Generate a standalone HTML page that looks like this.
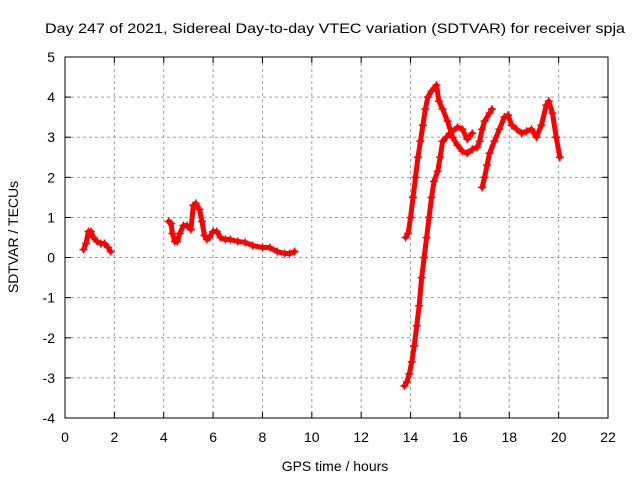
<!DOCTYPE html>
<html><head><meta charset="utf-8"><style>
body{margin:0;background:#fff}
svg{display:block;font-family:"Liberation Sans",sans-serif}
</style></head><body>
<svg id="chart" width="640" height="480">
<rect width="640" height="480" fill="#fff"/>
<text x="335" y="33" text-anchor="middle" font-size="14" textLength="580" lengthAdjust="spacingAndGlyphs">Day 247 of 2021, Sidereal Day-to-day VTEC variation (SDTVAR) for receiver spja</text>
<text x="335" y="471" text-anchor="middle" font-size="14">GPS time / hours</text>
<text x="18" y="237" text-anchor="middle" font-size="14" transform="rotate(-90 18 237)">SDTVAR / TECUs</text>
<g id="grid"></g><g id="axes"></g><g id="marks"></g>
</svg>
<script>
const xTicks=[0,2,4,6,8,10,12,14,16,18,20,22];
const yTicks=[-4,-3,-2,-1,0,1,2,3,4,5];
const segA=[[0.75,0.2],[0.85,0.35],[0.95,0.65],[1.05,0.65],[1.15,0.5],[1.3,0.4],[1.45,0.35],[1.6,0.35],[1.75,0.25],[1.85,0.15]];
const segB=[[4.2,0.9],[4.3,0.85],[4.35,0.6],[4.45,0.4],[4.55,0.4],[4.65,0.6],[4.8,0.8],[4.95,0.8],[5.1,0.7],[5.2,1.3],[5.3,1.35],[5.45,1.2],[5.55,0.9],[5.65,0.55],[5.75,0.45],[5.85,0.5],[6.0,0.65],[6.15,0.65],[6.3,0.5],[6.5,0.45],[6.7,0.45],[7.0,0.4],[7.3,0.38],[7.6,0.3],[8.0,0.25],[8.3,0.25],[8.6,0.15],[8.9,0.1],[9.1,0.1],[9.3,0.15]];
const segC=[[13.8,0.5],[13.9,0.6],[14.0,1.0],[14.1,1.5],[14.2,2.0],[14.3,2.5],[14.4,2.9],[14.5,3.3],[14.6,3.7],[14.7,4.0],[14.85,4.15],[15.05,4.3],[15.15,3.9],[15.3,3.7],[15.5,3.4],[15.7,3.0],[15.9,2.8],[16.1,2.65],[16.3,2.6],[16.5,2.7],[16.7,2.75],[16.8,2.9],[16.9,3.2],[17.0,3.4],[17.2,3.6],[17.3,3.7]];
const segD=[[13.75,-3.2],[13.85,-3.1],[13.95,-2.9],[14.05,-2.6],[14.15,-2.2],[14.25,-1.7],[14.35,-1.2],[14.45,-0.5],[14.55,0.0],[14.65,0.5],[14.75,1.0],[14.85,1.5],[14.95,1.9],[15.1,2.15],[15.2,2.5],[15.3,2.9],[15.45,3.0],[15.6,3.1],[15.9,3.25],[16.1,3.2],[16.3,2.95],[16.5,3.1]];
const segE=[[16.9,1.75],[17.0,2.0],[17.1,2.3],[17.2,2.6],[17.4,2.9],[17.6,3.2],[17.8,3.5],[17.95,3.55],[18.1,3.3],[18.3,3.2],[18.5,3.1],[18.7,3.15],[18.9,3.2],[19.1,3.0],[19.3,3.3],[19.5,3.8],[19.6,3.9],[19.75,3.6],[19.9,3.0],[20.05,2.5]];
const X0=65,X1=608,Y0=418,Y1=57;
const xs=h=>X0+h/22*(X1-X0);
const ys=v=>Y0-(v+4)/9*(Y0-Y1);
const NS="http://www.w3.org/2000/svg";
function mk(p,t,a){const e=document.createElementNS(NS,t);for(const k in a)e.setAttribute(k,a[k]);p.appendChild(e);return e;}
const grid=document.getElementById('grid'),axes=document.getElementById('axes'),marks=document.getElementById('marks');
xTicks.forEach(t=>{const x=xs(t);
 if(t>0&&t<22){const g=mk(grid,'line',{x1:x,x2:x,y1:Y1,y2:Y0,stroke:'#a0a0a0','stroke-dasharray':'3,3'});
 
 }
 mk(axes,'line',{x1:x,x2:x,y1:Y0,y2:Y0-6,stroke:'#000'});mk(axes,'line',{x1:x,x2:x,y1:Y1,y2:Y1+6,stroke:'#000'});
 const l=mk(axes,'text',{x:x,y:Y0+24,'text-anchor':'middle','font-size':14});l.textContent=t;
 
 });
yTicks.forEach(t=>{const y=ys(t);
 if(t>-4&&t<5){const g=mk(grid,'line',{x1:X0,x2:X1,y1:y,y2:y,stroke:'#a0a0a0','stroke-dasharray':'3,3'});
 
 }
 mk(axes,'line',{x1:X0,x2:X0+6,y1:y,y2:y,stroke:'#000'});mk(axes,'line',{x1:X1,x2:X1-6,y1:y,y2:y,stroke:'#000'});
 const l=mk(axes,'text',{x:X0-10,y:y+5,'text-anchor':'end','font-size':14});l.textContent=t;
 
 });
const fr=mk(axes,'rect',{x:X0,y:Y1,width:X1-X0,height:Y0-Y1,fill:'none',stroke:'#000'});


[segA,segB,segC,segD,segE].forEach((s,i)=>{
 const pl=mk(marks,'polyline',{points:s.map(p=>xs(p[0])+','+ys(p[1])).join(' '),fill:'none',stroke:'#f00','stroke-width':5,'stroke-linejoin':'round','stroke-linecap':'round'});
 
 
 s.forEach(p=>{const x=xs(p[0]),y=ys(p[1]);
  const c=mk(marks,'path',{d:`M${x-4},${y}H${x+4}M${x},${y-4}V${y+4}`,stroke:'#f00','stroke-width':1.5});
  
  });
});
</script>
</body></html>
